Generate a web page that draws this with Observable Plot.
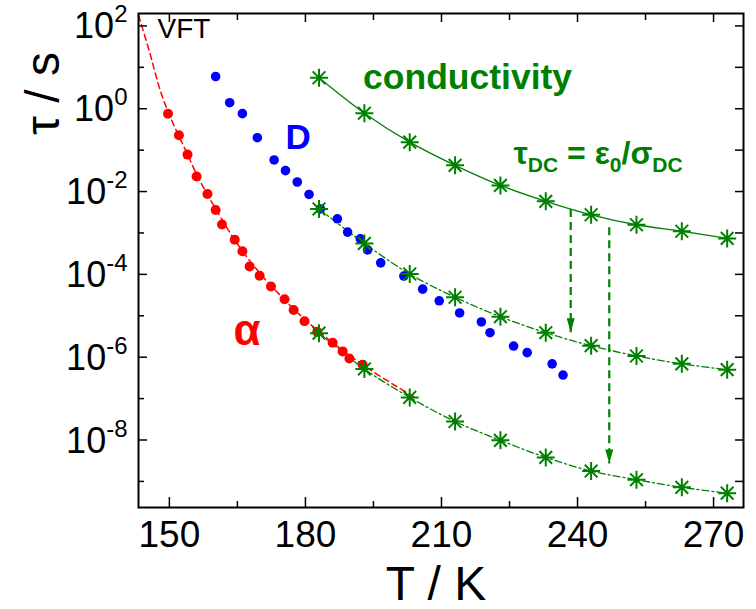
<!DOCTYPE html>
<html>
<head>
<meta charset="utf-8">
<script src="https://cdn.jsdelivr.net/npm/d3@7"></script>
<script src="https://cdn.jsdelivr.net/npm/@observablehq/plot@0.6"></script>
<style>
  body { margin: 0; background: #fff; }
  svg text { white-space: pre; }
</style>
</head>
<body>
<div id="chart"></div>
<script>
// ---- data (T in K, tau in s) ----
const alphaT   = [149.7, 152.1, 154.0, 156.0, 158.4, 160.2, 161.6, 164.4, 166.1, 167.7,
                  169.9, 172.4, 175.4, 177.4, 179.8, 182.6, 186.0, 188.2, 189.7, 192.6];
const alphaTau = [7.6e-1, 2.3e-1, 7.8e-2, 2.3e-2, 8.7e-3, 3.6e-3, 1.6e-3, 6.9e-4, 3.6e-4, 1.55e-4,
                  9.3e-5, 5.1e-5, 2.5e-5, 1.38e-5, 7.4e-6, 4.1e-6, 2.24e-6, 1.38e-6, 9.3e-7, 6.6e-7];

const dT   = [160.2, 163.3, 166.1, 169.4, 173.1, 175.6, 178.2, 180.8, 183.3, 187.05, 189.3, 192.1,
              193.7, 196.6, 201.7, 205.85, 209.5, 214.0, 218.8, 220.7, 225.9, 228.9, 234.4, 236.8];
const dTau = [6.0e0, 1.4e0, 7.6e-1, 2.0e-1, 5.8e-2, 3.2e-2, 1.7e-2, 8.5e-3, 3.8e-3, 2.2e-3, 1.05e-3, 7.2e-4,
              3.9e-4, 1.9e-4, 9.1e-5, 4.4e-5, 2.3e-5, 1.17e-5, 7.1e-6, 3.9e-6, 1.86e-6, 1.29e-6, 6.9e-7, 3.7e-7];

const condT      = [183, 193, 203, 213, 223, 233, 243, 253, 263, 273];
const condTauDC  = [5.6e0, 7.8e-1, 1.56e-1, 4.3e-2, 1.41e-2, 5.8e-3, 2.75e-3, 1.58e-3, 1.10e-3, 7.4e-4];
const condTauMid = [3.8e-3, 5.6e-4, 1.02e-4, 2.8e-5, 9.5e-6, 3.9e-6, 1.9e-6, 1.07e-6, 6.9e-7, 5.0e-7];
const condTauLow = [3.8e-6, 5.2e-7, 1.07e-7, 2.8e-8, 9.8e-9, 3.8e-9, 1.78e-9, 1.10e-9, 7.2e-10, 5.2e-10];

// VFT fit curve
const vftT   = [143.2, 145.6, 148.0, 150.0, 152.0, 154.0, 156.0, 158.0, 160.0, 163.0,
                166.0, 170.0, 175.0, 180.0, 185.0, 190.0, 195.0, 200.0, 204.6];
const vftTau = [1.8e2, 2.4e1, 2.75e0, 7.1e-1, 2.3e-1, 7.9e-2, 2.6e-2, 1.0e-2, 4.2e-3, 1.17e-3,
                3.8e-4, 1.05e-4, 2.7e-5, 7.9e-6, 2.75e-6, 1.05e-6, 4.4e-7, 2.0e-7, 1.0e-7];

// dashed shift arrows
const arrowT    = [238.5, 247.0];
const arrowFrom = [3.8e-3, 1.38e-3];
const arrowTo   = [4.0e-6, 2.7e-9];

// axis ticks
const xTicks = [150, 180, 210, 240, 270];
const xMinor = [165, 195, 225, 255];
const yTickExps  = [2, 0, -2, -4, -6, -8];
const yMinorExps = [1, -1, -3, -5, -7, -9];

// labels
const formulaParts = ["τ", "DC", " = ε", "0", "/σ", "DC"]; // odd entries are subscripts
const formulaText = formulaParts.join("");

// ---- build ----
const RED = "#ff0000", BLUE = "#0000ff", GREEN = "#008000";
const rows = (T, tau) => T.map((t, i) => ({T: t, tau: tau[i]}));
const alphaRows = rows(alphaT, alphaTau);
const dRows = rows(dT, dTau);
const upRows = rows(condT, condTauDC);
const midRows = rows(condT, condTauMid);
const lowRows = rows(condT, condTauLow);
const vftRows = rows(vftT, vftTau);
const arrows = arrowT.map((t, i) => ({T: t, from: arrowFrom[i], to: arrowTo[i]}));

const star = {
  draw(ctx, size) {
    const r = Math.sqrt(size / Math.PI), d = r * Math.SQRT1_2;
    ctx.moveTo(-r, 0); ctx.lineTo(r, 0);
    ctx.moveTo(0, -r); ctx.lineTo(0, r);
    ctx.moveTo(-d, -d); ctx.lineTo(d, d);
    ctx.moveTo(-d, d); ctx.lineTo(d, -d);
  }
};
const head = {
  draw(ctx) {
    ctx.moveTo(0, 0); ctx.lineTo(-4, -14); ctx.lineTo(4, -14); ctx.closePath();
  }
};

const tickAxis = (fn, anchor, ticks, size) =>
  fn({anchor, ticks, tickSize: -size, fill: "none", strokeWidth: 1.5, label: null});

const svg = Plot.plot({
  width: 756, height: 609,
  marginLeft: 138, marginRight: 13, marginTop: 13, marginBottom: 102,
  style: {fontFamily: "'Liberation Sans', Arial, sans-serif", background: "white", color: "black"},
  x: {type: "linear", domain: [143.19, 276.6], axis: null, label: null},
  y: {type: "log", domain: [Math.pow(10, -9.63), Math.pow(10, 2.3)], axis: null, label: null},
  marks: [
    Plot.line(vftRows, {x: "T", y: "tau", stroke: RED, strokeWidth: 1.5, strokeDasharray: "6,4", curve: "catmull-rom"}),
    Plot.line(upRows, {x: "T", y: "tau", stroke: GREEN, strokeWidth: 1.3, curve: "catmull-rom"}),
    Plot.line(midRows, {x: "T", y: "tau", stroke: GREEN, strokeWidth: 1.3, strokeDasharray: "7,3,2,3", curve: "catmull-rom"}),
    Plot.line(lowRows, {x: "T", y: "tau", stroke: GREEN, strokeWidth: 1.3, strokeDasharray: "7,3,2,3", curve: "catmull-rom"}),
    Plot.dot(alphaRows, {x: "T", y: "tau", r: 5, fill: RED, stroke: "none"}),
    Plot.dot(dRows, {x: "T", y: "tau", r: 4.8, fill: BLUE, stroke: "none"}),
    Plot.link(arrows, {x1: "T", x2: "T", y1: "from", y2: "to", stroke: GREEN, strokeWidth: 2.2, strokeDasharray: "8,5"}),
    Plot.dot(arrows, {x: "T", y: "to", symbol: head, r: 5, fill: GREEN, stroke: "none"}),
    Plot.dot([...upRows, ...midRows, ...lowRows], {x: "T", y: "tau", symbol: star, r: 9, stroke: GREEN, strokeWidth: 2, fill: "none"}),

    // frame and inward ticks
    Plot.frame({stroke: "black", strokeWidth: 2}),
    tickAxis(Plot.axisX, "bottom", xTicks, 10),
    tickAxis(Plot.axisX, "bottom", xMinor, 6),
    tickAxis(Plot.axisX, "top", xTicks, 8),
    tickAxis(Plot.axisX, "top", xMinor, 6),
    tickAxis(Plot.axisY, "left", yTickExps.map(e => Math.pow(10, e)), 9),
    tickAxis(Plot.axisY, "left", yMinorExps.map(e => Math.pow(10, e)), 6),
    tickAxis(Plot.axisY, "right", [...yTickExps, ...yMinorExps].map(e => Math.pow(10, e)), 9),

    // tick labels
    Plot.axisX({anchor: "bottom", ticks: xTicks, tickSize: 0, tickPadding: 13, fontSize: 37, label: null, tickFormat: d => String(d)}),
    Plot.text(yTickExps, {y: e => Math.pow(10, e), frameAnchor: "left", text: e => "10^" + e,
      textAnchor: "end", lineAnchor: "middle", dx: -11, dy: 1, fontSize: 36, fill: "black"}),

    // axis titles
    Plot.text(["τ / s"], {frameAnchor: "top-left", text: d => d, rotate: -90, dx: -80, dy: 80,
      textAnchor: "middle", lineAnchor: "bottom", fontSize: 48, fill: "black"}),
    Plot.text(["T / K"], {frameAnchor: "bottom", text: d => d, dx: -5, dy: 92,
      textAnchor: "middle", lineAnchor: "bottom", fontSize: 48, fill: "black"}),

    // annotations
    Plot.text(["VFT"], {x: 147.4, y: 49.9, text: d => d, textAnchor: "start", lineAnchor: "bottom", fontSize: 28, fill: "black"}),
    Plot.text(["conductivity"], {x: 192.7, y: 3.04, text: d => d, textAnchor: "start", lineAnchor: "bottom", fontSize: 35.5, fontWeight: "bold", fill: GREEN}),
    Plot.text(["D"], {x: 178.4, y: 0.108, text: d => d, textAnchor: "middle", lineAnchor: "bottom", fontSize: 35, fontWeight: "bold", fill: BLUE}),
    Plot.text(["α"], {x: 167.15, y: 1.92e-6, text: d => d, textAnchor: "middle", lineAnchor: "bottom", fontSize: 44, fontWeight: "bold", fill: RED}),
    Plot.text([formulaText], {x: 225.9, y: 0.0469, text: d => d, textAnchor: "start", lineAnchor: "bottom", fontSize: 32, fontWeight: "bold", fill: GREEN})
  ]
});

// superscripts / subscripts as tspans
d3.select(svg).selectAll("text").each(function () {
  const s = this.textContent;
  const t = d3.select(this);
  if (/^10\^/.test(s)) {
    const exp = s.slice(3);
    t.text(null);
    t.append("tspan").text("10");
    t.append("tspan").attr("dy", -16).attr("font-size", 24).text(exp);
  } else if (s === formulaText) {
    t.text(null);
    let shift = 0;
    formulaParts.forEach((p, i) => {
      const sub = i % 2 === 1;
      const target = sub ? 8 : 0;
      const ts = t.append("tspan").text(p);
      if (target !== shift) ts.attr("dy", target - shift);
      if (sub) ts.attr("font-size", 21);
      shift = target;
    });
  }
});

document.getElementById("chart").appendChild(svg);
</script>
</body>
</html>
